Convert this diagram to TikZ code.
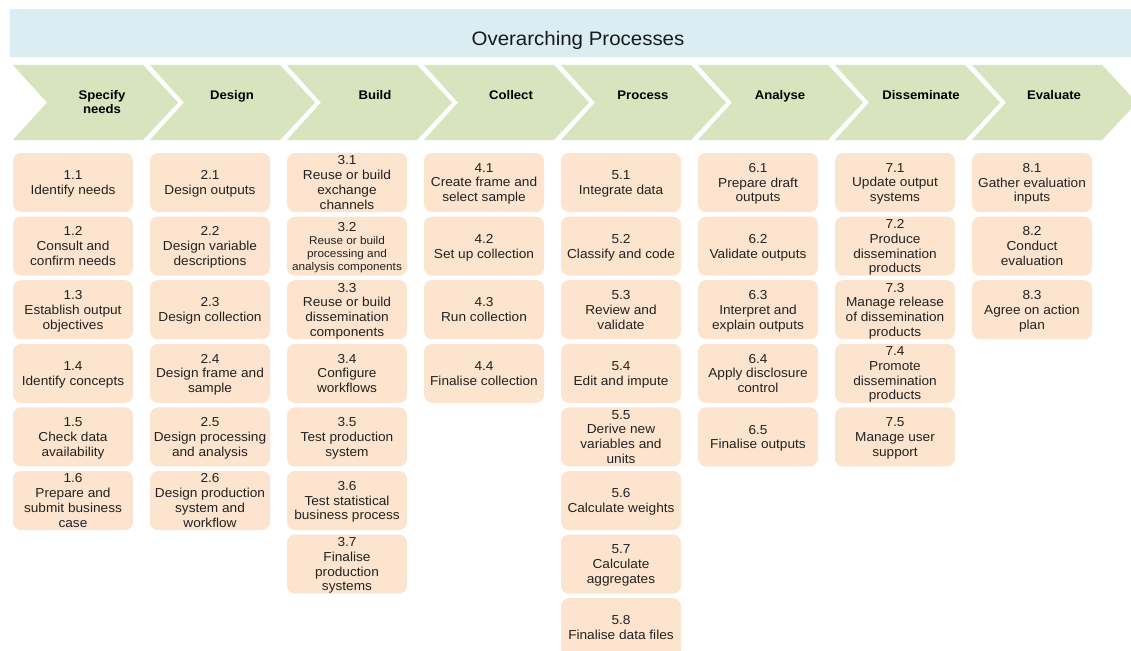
\documentclass[tikz,border=0pt]{standalone}
\usepackage{fontspec}
\setmainfont{Liberation Sans}[FakeStretch=1.05]
\definecolor{bannerblue}{HTML}{DAEDF3}
\definecolor{phasegreen}{HTML}{D7E4BD}
\definecolor{stepfill}{HTML}{FCE4CE}
\definecolor{steptext}{HTML}{222222}
\tikzset{
  stepbox/.style={fill=stepfill, draw=none, rounded corners=8pt,
    minimum width=120pt, minimum height=59pt, inner sep=0pt,
    text depth=0pt, align=center, text=steptext,
    font=\fontsize{13}{14.8}\selectfont},
  smallstep/.style={stepbox, font=\fontsize{11.2}{13}\selectfont},
  phaselabel/.style={anchor=north, inner sep=0pt, align=center,
    font=\fontsize{12.5}{14}\selectfont\bfseries},
  chevron/.style={fill=phasegreen, draw=none},
}
% one phase arrow, left edge at #1
\newcommand\phasearrow[1]{%
  \fill[chevron] (#1,65) -- ++(130,0) -- ++(35,37.5) -- ++(-35,37.5)
    -- ++(-130,0) -- ++(34,-37.5) -- cycle;}
\begin{document}
\begin{tikzpicture}[x=1pt,y=-1pt]
\useasboundingbox (0,0) rectangle (1131,650);
\fill[white] (0,0) rectangle (1131,650);
\clip (0,0) rectangle (1131,650);

% overarching banner
\fill[bannerblue] (10,9) rectangle (1140,57);
\node[inner sep=0pt, font=\fontsize{19.5}{22}\selectfont, text=black!90, anchor=base]
  (title) at (578,46) {Overarching Processes};

% phase arrows
\foreach \i in {0,...,7} {\phasearrow{13+137*\i}}
\node[phaselabel] (p1) at (102,90.5) {Specify\\needs};
\node[phaselabel] (p2) at (232,90.5) {Design};
\node[phaselabel] (p3) at (375,90.5) {Build};
\node[phaselabel] (p4) at (511,90.5) {Collect};
\node[phaselabel] (p5) at (643,90.5) {Process};
\node[phaselabel] (p6) at (780,90.5) {Analyse};
\node[phaselabel] (p7) at (921,90.5) {Disseminate};
\node[phaselabel] (p8) at (1054,90.5) {Evaluate};

% 1 Specify needs
\node[stepbox] (s11) at (73,182.5) {1.1\\Identify needs};
\node[stepbox] (s12) at (73,246.1) {1.2\\Consult and\\confirm needs};
\node[stepbox] (s13) at (73,309.7) {1.3\\Establish output\\objectives};
\node[stepbox] (s14) at (73,373.3) {1.4\\Identify concepts};
\node[stepbox] (s15) at (73,436.9) {1.5\\Check data\\availability};
\node[stepbox] (s16) at (73,500.5) {1.6\\Prepare and\\submit business\\case};

% 2 Design
\node[stepbox] (s21) at (210,182.5) {2.1\\Design outputs};
\node[stepbox] (s22) at (210,246.1) {2.2\\Design variable\\descriptions};
\node[stepbox] (s23) at (210,309.7) {2.3\\Design collection};
\node[stepbox] (s24) at (210,373.3) {2.4\\Design frame and\\sample};
\node[stepbox] (s25) at (210,436.9) {2.5\\Design processing\\and analysis};
\node[stepbox] (s26) at (210,500.5) {2.6\\Design production\\system and\\workflow};

% 3 Build
\node[stepbox] (s31) at (347,182.5) {3.1\\Reuse or build\\exchange\\channels};
\node[smallstep] (s32) at (347,246.1) {{\fontsize{13}{13}\selectfont 3.2}\\Reuse or build\\processing and\\analysis components};
\node[stepbox] (s33) at (347,309.7) {3.3\\Reuse or build\\dissemination\\components};
\node[stepbox] (s34) at (347,373.3) {3.4\\Configure\\workflows};
\node[stepbox] (s35) at (347,436.9) {3.5\\Test production\\system};
\node[stepbox] (s36) at (347,500.5) {3.6\\Test statistical\\business process};
\node[stepbox] (s37) at (347,564.1) {3.7\\Finalise\\production\\systems};

% 4 Collect
\node[stepbox] (s41) at (484,182.5) {4.1\\Create frame and\\select sample};
\node[stepbox] (s42) at (484,246.1) {4.2\\Set up collection};
\node[stepbox] (s43) at (484,309.7) {4.3\\Run collection};
\node[stepbox] (s44) at (484,373.3) {4.4\\Finalise collection};

% 5 Process
\node[stepbox] (s51) at (621,182.5) {5.1\\Integrate data};
\node[stepbox] (s52) at (621,246.1) {5.2\\Classify and code};
\node[stepbox] (s53) at (621,309.7) {5.3\\Review and\\validate};
\node[stepbox] (s54) at (621,373.3) {5.4\\Edit and impute};
\node[stepbox] (s55) at (621,436.9) {5.5\\Derive new\\variables and\\units};
\node[stepbox] (s56) at (621,500.5) {5.6\\Calculate weights};
\node[stepbox] (s57) at (621,564.1) {5.7\\Calculate\\aggregates};
\node[stepbox] (s58) at (621,627.7) {5.8\\Finalise data files};

% 6 Analyse
\node[stepbox] (s61) at (758,182.5) {6.1\\Prepare draft\\outputs};
\node[stepbox] (s62) at (758,246.1) {6.2\\Validate outputs};
\node[stepbox] (s63) at (758,309.7) {6.3\\Interpret and\\explain outputs};
\node[stepbox] (s64) at (758,373.3) {6.4\\Apply disclosure\\control};
\node[stepbox] (s65) at (758,436.9) {6.5\\Finalise outputs};

% 7 Disseminate
\node[stepbox] (s71) at (895,182.5) {7.1\\Update output\\systems};
\node[stepbox] (s72) at (895,246.1) {7.2\\Produce\\dissemination\\products};
\node[stepbox] (s73) at (895,309.7) {7.3\\Manage release\\of dissemination\\products};
\node[stepbox] (s74) at (895,373.3) {7.4\\Promote\\dissemination\\products};
\node[stepbox] (s75) at (895,436.9) {7.5\\Manage user\\support};

% 8 Evaluate
\node[stepbox] (s81) at (1032,182.5) {8.1\\Gather evaluation\\inputs};
\node[stepbox] (s82) at (1032,246.1) {8.2\\Conduct\\evaluation};
\node[stepbox] (s83) at (1032,309.7) {8.3\\Agree on action\\plan};
\end{tikzpicture}
\end{document}
